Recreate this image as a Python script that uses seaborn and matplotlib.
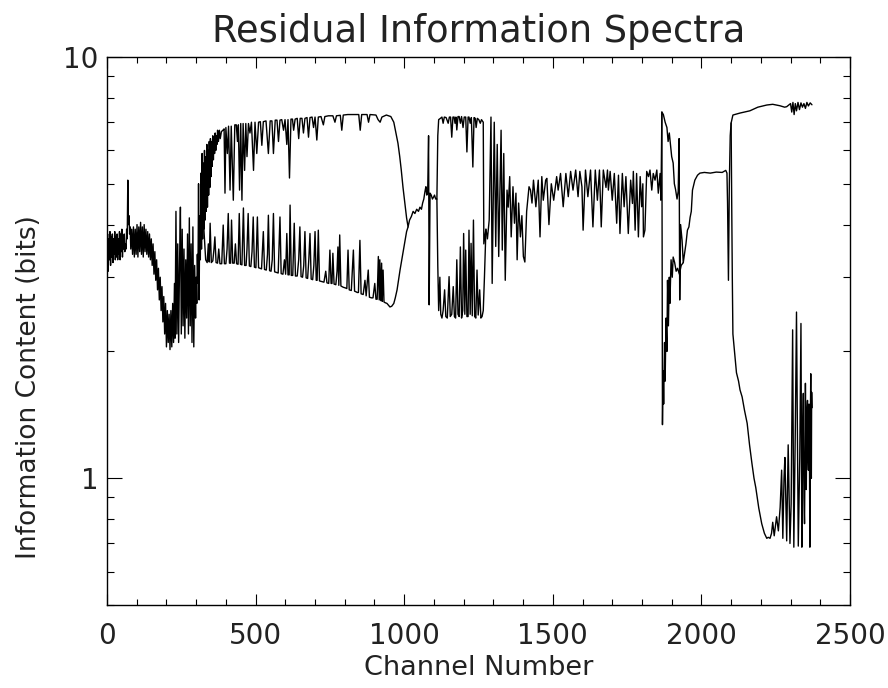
import numpy as np
import pandas as pd
import matplotlib
matplotlib.use('Agg')
import matplotlib.pyplot as plt
from matplotlib.ticker import MultipleLocator, LogLocator, NullFormatter
import seaborn as sns

# channel / information content (bits), piece by piece
start = [(0, 3.3), (2, 3.8), (4, 3.1), (6, 3.7), (8, 3.3), (10, 3.85), (12, 3.2), (14, 3.75), (16, 3.35),
         (18, 3.8), (20, 3.25), (22, 3.7), (24, 3.4), (26, 3.85), (28, 3.3), (30, 3.75), (32, 3.35), (34, 3.8),
         (36, 3.3), (38, 3.7), (40, 3.4), (42, 3.85), (44, 3.3), (46, 3.8), (48, 3.45), (50, 3.9), (52, 3.35),
         (54, 3.75), (56, 3.5), (58, 3.8), (60, 3.45), (62, 3.6), (64, 3.5), (66, 3.9), (68, 3.7), (70, 5.1),
         (72, 4.0), (74, 4.2), (76, 3.8), (78, 3.95), (80, 3.5), (83, 3.9), (86, 3.4), (89, 3.95), (92, 3.35),
         (95, 3.9), (98, 3.4), (101, 4.0), (104, 3.35), (107, 3.95), (110, 3.45), (113, 4.05), (116, 3.4),
         (119, 3.95), (122, 3.35), (125, 4.0), (128, 3.45), (131, 3.9), (134, 3.4), (137, 3.85), (140, 3.35),
         (143, 3.8), (146, 3.3), (149, 3.7), (152, 3.2), (155, 3.6), (158, 3.05), (161, 3.45), (164, 2.95),
         (167, 3.3), (170, 2.8), (173, 3.15), (176, 2.65), (179, 3.0), (182, 2.5), (185, 2.85), (188, 2.35),
         (191, 2.7), (194, 2.2), (197, 2.6), (200, 2.05), (203, 2.5), (206, 2.1), (209, 2.45), (212, 2.02),
         (215, 2.5), (218, 2.05), (221, 2.6), (224, 2.1), (227, 2.9), (229, 2.15), (232, 4.3), (235, 2.2),
         (238, 3.6), (241, 2.1), (244, 3.2), (247, 4.4), (250, 2.2), (253, 3.9), (256, 2.3), (259, 3.5),
         (262, 2.15), (265, 3.3), (268, 2.4), (271, 3.8), (274, 2.2), (277, 4.15), (280, 2.3), (283, 3.6),
         (286, 2.1), (289, 3.95), (292, 2.05), (295, 3.2), (298, 2.4), (300, 3.0), (302, 2.6), (304, 3.4),
         (306, 2.9), (308, 5.0), (310, 2.65), (312, 4.2), (314, 3.3), (316, 5.3), (318, 3.5), (320, 5.9),
         (322, 3.7), (324, 5.6), (326, 3.9), (328, 6.0), (330, 4.1), (332, 5.8), (334, 4.3), (336, 6.2),
         (338, 4.4), (340, 6.0), (342, 4.7), (344, 6.3), (346, 4.9), (348, 6.4), (350, 5.2), (352, 6.3),
         (354, 5.5), (356, 6.5), (358, 5.7), (360, 6.4), (362, 5.9), (364, 6.6), (366, 6.0), (368, 6.5),
         (370, 6.2), (372, 6.7), (375, 6.3), (378, 6.7), (381, 6.4)]

upper1 = [(385, 6.65), (390, 6.7), (394, 6.75), (397, 4.75), (400, 6.8), (405, 5.9), (409, 6.85), (414, 4.83),
          (418, 6.85), (425, 4.57), (430, 6.9), (435, 6.9), (439, 6.3), (442, 6.9), (446, 4.83), (450, 6.95),
          (454, 4.57), (458, 6.95), (463, 5.38), (467, 6.95), (471, 5.8), (476, 6.95), (481, 6.6), (486, 7.0),
          (493, 5.38), (498, 7.0), (504, 5.9), (510, 7.0), (516, 7.02), (521, 6.17), (526, 7.02), (535, 7.05),
          (543, 5.9), (549, 7.05), (555, 7.05), (560, 5.9), (566, 7.08), (572, 7.08), (577, 6.3), (582, 7.08),
          (588, 7.1), (594, 6.7), (599, 7.1), (605, 6.2), (609, 7.1), (614, 5.16), (619, 7.12), (624, 7.12),
          (628, 6.7), (633, 7.12), (640, 7.15), (645, 6.4), (650, 7.15), (656, 7.15), (661, 6.6), (666, 7.15),
          (673, 7.18), (678, 6.45), (683, 7.18), (690, 7.2), (695, 6.8), (700, 7.2), (706, 6.35), (711, 7.2),
          (720, 7.22), (728, 6.9), (733, 7.22), (745, 7.25), (760, 7.25), (767, 7.0), (772, 7.25), (785, 7.27),
          (790, 6.7), (795, 7.28), (810, 7.3), (830, 7.3), (847, 7.3), (852, 6.7), (857, 7.3), (875, 7.3),
          (880, 7.0), (885, 7.3), (905, 7.28), (912, 7.1), (919, 7.0), (925, 7.2), (940, 7.28), (955, 7.22),
          (965, 7.0), (972, 6.6), (979, 6.24), (985, 5.8), (990, 5.4), (996, 4.9), (1002, 4.5), (1008, 4.15)]

mid = [(1013, 3.95), (1018, 4.1), (1024, 4.18), (1030, 4.3), (1036, 4.25), (1042, 4.35), (1048, 4.3),
       (1053, 4.4), (1058, 4.35), (1062, 4.5), (1066, 4.6), (1070, 4.8), (1073, 4.92), (1076, 4.7),
       (1079, 4.75), (1082, 6.5), (1084, 2.58), (1087, 4.75), (1091, 4.7), (1095, 4.6), (1099, 4.65),
       (1102, 4.7), (1106, 4.6), (1110, 4.6)]

upper2 = [(1113, 6.5), (1116, 7.1), (1122, 7.15), (1127, 7.2), (1131, 6.96), (1135, 7.2), (1141, 7.18),
          (1148, 6.96), (1152, 7.2), (1156, 7.2), (1160, 6.45), (1164, 7.2), (1168, 7.2), (1171, 6.96),
          (1174, 7.2), (1177, 6.71), (1181, 7.22), (1185, 7.22), (1189, 6.96), (1193, 7.22), (1198, 6.8),
          (1202, 7.2), (1207, 7.2), (1211, 5.95), (1215, 7.2), (1218, 7.2), (1222, 6.96), (1226, 7.18),
          (1231, 5.48), (1235, 7.18), (1239, 7.15), (1242, 6.8), (1246, 7.15), (1251, 7.1), (1256, 6.96),
          (1260, 7.1), (1263, 7.05), (1266, 7.0)]

band = [(1268, 3.6), (1275, 3.9), (1280, 3.7), (1286, 4.1), (1292, 7.2), (1296, 2.9), (1303, 7.0),
        (1308, 3.55), (1313, 6.2), (1318, 3.36), (1326, 6.7), (1330, 3.48), (1335, 5.9), (1340, 2.95),
        (1346, 4.83), (1350, 4.4), (1355, 5.2), (1360, 3.74), (1366, 4.92), (1371, 4.03), (1376, 4.75),
        (1380, 3.3), (1385, 4.5), (1391, 3.74), (1396, 4.2), (1401, 3.36), (1406, 3.26), (1412, 4.3),
        (1420, 4.92), (1425, 4.83), (1430, 4.5), (1435, 5.1), (1443, 4.41), (1451, 5.1), (1457, 3.74),
        (1463, 5.2), (1468, 4.57), (1476, 5.1), (1480, 5.15), (1487, 4.0), (1495, 5.0), (1503, 4.57),
        (1513, 5.2), (1518, 4.83), (1526, 5.29), (1535, 4.41), (1544, 5.29), (1552, 4.66), (1560, 5.35),
        (1568, 4.83), (1577, 5.39), (1585, 4.66), (1591, 5.35), (1598, 4.92), (1602, 3.88), (1610, 5.39),
        (1618, 4.66), (1627, 5.39), (1635, 3.95), (1643, 5.39), (1650, 4.57), (1657, 5.39), (1663, 3.95),
        (1670, 5.39), (1679, 4.9), (1684, 5.39), (1687, 4.83), (1693, 5.35), (1700, 4.57), (1707, 5.29),
        (1715, 4.03), (1721, 5.24), (1726, 3.81), (1734, 5.29), (1740, 4.41), (1746, 5.2), (1754, 3.81),
        (1762, 5.1), (1768, 4.49), (1771, 5.35), (1777, 3.88), (1782, 5.29), (1788, 3.74), (1794, 5.2),
        (1799, 4.41), (1803, 5.0), (1805, 3.74), (1810, 3.88), (1816, 5.35), (1822, 5.2), (1827, 5.39),
        (1833, 4.83), (1838, 5.29), (1844, 5.1), (1850, 5.39), (1855, 4.75), (1861, 5.29), (1864, 4.57)]

tail = [(1867, 7.4), (1872, 7.3), (1878, 7.0), (1884, 6.8), (1888, 6.3), (1892, 6.6), (1896, 6.2),
        (1900, 5.8), (1905, 5.6), (1909, 5.0), (1913, 4.85), (1918, 4.6), (1922, 4.8), (1925, 6.4),
        (1927, 2.65), (1930, 4.0), (1935, 3.67), (1939, 3.25), (1943, 3.4), (1948, 3.6), (1953, 3.88),
        (1958, 3.95), (1962, 4.16), (1966, 4.3), (1970, 4.83), (1978, 5.1), (1987, 5.24), (1995, 5.3),
        (2010, 5.32), (2030, 5.3), (2050, 5.33), (2070, 5.32), (2082, 5.38), (2086, 5.3), (2088, 4.5),
        (2090, 3.5), (2091, 2.95), (2094, 5.0), (2097, 6.5), (2100, 6.97), (2106, 7.28), (2130, 7.36),
        (2163, 7.45), (2190, 7.6), (2220, 7.69), (2240, 7.72), (2264, 7.66), (2280, 7.6), (2287, 7.62),
        (2295, 7.7), (2300, 7.75), (2304, 7.4), (2308, 7.8), (2312, 7.3), (2316, 7.75), (2320, 7.45),
        (2325, 7.8), (2330, 7.5), (2335, 7.78), (2340, 7.6), (2345, 7.75), (2350, 7.55), (2355, 7.8),
        (2360, 7.65), (2366, 7.78), (2372, 7.7)]

lower1 = [(326, 3.9), (332, 3.3), (337, 3.25), (341, 3.6), (344, 3.26), (347, 4.03), (351, 3.25), (356, 3.28),
          (360, 3.5), (363, 3.74), (367, 3.25), (372, 3.24), (376, 3.5), (380, 3.23), (386, 3.23), (391, 3.99),
          (395, 3.23), (400, 3.23), (404, 3.5), (408, 4.25), (412, 3.24), (416, 3.24), (419, 4.10), (423, 3.24),
          (428, 3.24), (432, 3.6), (436, 3.23), (441, 3.22), (445, 4.25), (449, 3.22), (454, 3.21), (459, 4.38),
          (463, 3.2), (468, 3.2), (471, 3.5), (475, 4.25), (479, 3.19), (484, 3.18), (488, 3.45), (492, 4.17),
          (496, 3.17), (501, 3.16), (506, 4.17), (510, 3.16), (515, 3.15), (520, 3.14), (526, 3.85), (530, 3.13),
          (536, 3.12), (540, 3.4), (543, 4.21), (547, 3.11), (552, 3.1), (556, 3.3), (560, 4.25), (564, 3.09),
          (570, 3.08), (576, 3.07), (582, 4.17), (586, 3.06), (592, 3.05), (597, 3.3), (601, 3.05), (605, 3.81),
          (609, 3.04), (613, 3.04), (616, 4.45), (620, 3.03), (625, 3.03), (630, 4.03), (634, 3.02), (640, 3.02),
          (645, 3.3), (649, 3.95), (653, 3.01), (658, 3.0), (662, 3.2), (666, 3.85), (670, 2.99), (675, 2.98),
          (679, 3.3), (683, 3.81), (687, 2.97), (692, 2.96), (696, 3.2), (700, 3.85), (704, 2.95), (707, 2.95),
          (711, 3.88), (715, 2.94), (722, 2.93), (730, 2.92), (736, 3.1), (740, 2.91), (746, 2.9), (750, 3.48),
          (754, 2.9), (757, 2.9), (760, 3.42), (764, 2.89), (770, 2.88), (774, 3.1), (777, 3.54), (780, 2.87),
          (783, 3.78), (787, 2.86), (795, 2.84), (802, 2.83), (807, 2.82), (811, 3.48), (815, 2.8), (822, 2.79),
          (829, 3.48), (833, 2.78), (838, 2.77), (842, 2.76), (846, 2.76), (851, 3.67), (855, 2.74), (862, 2.73),
          (868, 2.95), (872, 2.71), (879, 3.12), (883, 2.69), (890, 2.68), (895, 2.68), (901, 2.9), (905, 2.66),
          (909, 2.66), (913, 3.36), (916, 2.65), (918, 3.3), (921, 2.64), (924, 3.24), (926, 2.63), (929, 3.12),
          (932, 2.62), (936, 2.61), (942, 2.6), (948, 2.57), (952, 2.55), (958, 2.56), (965, 2.6), (970, 2.68),
          (976, 2.8), (981, 2.95), (986, 3.12), (995, 3.4), (1003, 3.67), (1008, 3.85), (1013, 3.95)]

lower2 = [(1110, 4.6), (1113, 3.2), (1116, 2.5), (1120, 3.0), (1123, 2.45), (1127, 2.4), (1131, 2.5),
          (1136, 2.8), (1140, 2.42), (1145, 2.4), (1151, 3.01), (1155, 2.42), (1160, 2.45), (1165, 2.85),
          (1169, 2.42), (1173, 2.4), (1177, 3.3), (1181, 2.45), (1185, 2.42), (1189, 3.54), (1193, 2.4),
          (1197, 2.5), (1200, 3.81), (1204, 2.45), (1207, 3.48), (1211, 2.42), (1215, 2.42), (1218, 3.88),
          (1222, 2.45), (1225, 3.61), (1229, 2.43), (1233, 4.1), (1237, 2.42), (1241, 2.4), (1245, 3.12),
          (1249, 2.44), (1254, 2.8), (1258, 2.4), (1262, 2.42), (1266, 2.5), (1270, 3.0), (1275, 3.9)]

dip = [(1867, 7.4), (1869, 1.34), (1871, 1.8), (1873, 1.5), (1876, 2.1), (1878, 1.7), (1881, 2.4),
       (1884, 2.0), (1886, 2.95), (1889, 2.3), (1892, 3.0), (1894, 2.6), (1898, 3.3), (1902, 3.0),
       (1905, 3.35), (1910, 3.25), (1915, 3.1), (1920, 3.15), (1926, 3.05), (1932, 3.2), (1939, 3.25)]

fall = [(2100, 6.97), (2102, 4.5), (2104, 3.0), (2106, 2.2), (2110, 2.05), (2118, 1.78), (2125, 1.7),
        (2130, 1.62), (2137, 1.56), (2145, 1.45), (2154, 1.35), (2162, 1.2), (2170, 1.085), (2177, 1.0),
        (2183, 0.95), (2193, 0.85), (2203, 0.78), (2212, 0.74), (2220, 0.72), (2225, 0.724), (2231, 0.72),
        (2236, 0.74), (2240, 0.786), (2245, 0.73), (2253, 0.81), (2259, 0.75), (2265, 0.853), (2270, 1.045),
        (2274, 0.72), (2278, 1.0), (2281, 1.12), (2287, 0.71), (2292, 1.2), (2298, 0.7), (2302, 0.87),
        (2307, 2.25), (2311, 0.686), (2316, 1.3), (2320, 2.48), (2326, 0.69), (2331, 1.12), (2335, 2.33),
        (2338, 0.686), (2341, 1.3), (2343, 1.59), (2345, 0.9), (2347, 0.78), (2349, 1.2), (2350, 1.68),
        (2352, 1.0), (2353, 0.94), (2355, 1.45), (2357, 1.53), (2359, 1.1), (2360, 1.045), (2362, 1.5),
        (2363, 1.4), (2364, 1.0), (2365, 0.686), (2366, 1.2), (2368, 1.77), (2369, 1.1), (2370, 1.0),
        (2371, 1.6), (2372, 1.47)]

pieces = {'main': start + upper1 + mid + upper2 + band + tail,
          'lower1': lower1, 'lower2': lower2, 'dip': dip, 'fall': fall}

rows = []
for name, pts in pieces.items():
    for ch, val in pts:
        rows.append((name, ch, val))
df = pd.DataFrame(rows, columns=['piece', 'channel', 'bits'])

sns.set_style('ticks')
plt.rcParams['font.family'] = ['DejaVu Sans']

fig = plt.figure(figsize=(8.88, 6.88), dpi=100)
ax = fig.add_axes([0.1205, 0.1206, 0.8367, 0.7966])

sns.lineplot(data=df, x='channel', y='bits', units='piece', estimator=None, sort=False,
             color='black', lw=1.0, ax=ax, legend=False)

ax.set_yscale('log')
ax.set_xlim(0, 2500)
ax.set_ylim(0.5, 10)
ax.set_xticks([0, 500, 1000, 1500, 2000, 2500])
ax.xaxis.set_minor_locator(MultipleLocator(100))
ax.set_yticks([1, 10], ['1', '10'])
ax.yaxis.set_minor_locator(LogLocator(base=10, subs=np.arange(2, 10)))
ax.yaxis.set_minor_formatter(NullFormatter())

ax.tick_params(axis='both', which='both', direction='in', top=True, right=True, width=0.8,
               colors='black', labelcolor='#222222')
ax.tick_params(axis='x', which='major', length=8, pad=12, labelsize=20)
ax.tick_params(axis='x', which='minor', length=4)
ax.tick_params(axis='y', which='major', length=10.5, pad=6, labelsize=20)
ax.tick_params(axis='y', which='minor', length=5)
for s in ax.spines.values():
    s.set_linewidth(1.0)
    s.set_color('black')

ax.set_title('Residual Information Spectra', fontsize=26.5, pad=11, color='#222222')
ax.set_xlabel('Channel Number', fontsize=19.5, labelpad=4, color='#222222')
ax.set_ylabel('Information Content (bits)', fontsize=19, color='#222222')
ax.yaxis.set_label_coords(-0.088, 0.398)

fig.savefig('out.png', dpi=100, facecolor='white')
